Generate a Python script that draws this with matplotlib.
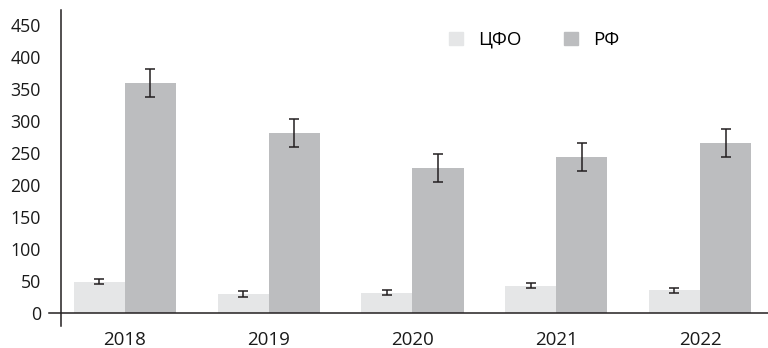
import numpy as np
import matplotlib
matplotlib.use("Agg")
import matplotlib.pyplot as plt
from matplotlib.patches import Patch

plt.rcParams['font.family'] = ['Open Sans', 'DejaVu Sans']

years = ['2018', '2019', '2020', '2021', '2022']
cfo_values = [49, 30, 32, 43, 36]
cfo_errors = [4, 4, 4, 4, 4]
rf_values = [359, 281, 227, 244, 266]
rf_errors = [22, 22, 22, 22, 22]
series_labels = ['ЦФО', 'РФ']

cfo_color = '#e5e6e7'
rf_color = '#bcbdbf'
ink = '#231f20'

fig = plt.figure(figsize=(7.68, 3.48), dpi=100)
ax = fig.add_axes([61 / 768, 1 - 313.3 / 348, 1 - 61 / 768, (313.3 - 10) / 348])

x = np.arange(len(years))
w = 0.355
err_kw = dict(ecolor=ink, elinewidth=1.1, capsize=3.3, capthick=1.1)

ax.bar(x - w / 2, cfo_values, w, color=cfo_color, yerr=cfo_errors,
       error_kw=err_kw, zorder=2)
ax.bar(x + w / 2, rf_values, w, color=rf_color, yerr=rf_errors,
       error_kw=err_kw, zorder=2)

ax.set_xlim(-0.445, 4.473)
ax.set_ylim(0, 473)
ax.set_yticks(np.arange(0, 451, 50))
ax.set_xticks(x)
ax.set_xticklabels(years)

for side in ['top', 'right']:
    ax.spines[side].set_visible(False)
ax.spines['left'].set_color(ink)
ax.spines['left'].set_linewidth(1.1)
ax.spines['left'].set_bounds(-20, 473)
ax.spines['bottom'].set_color(ink)
ax.spines['bottom'].set_linewidth(1.1)
ax.spines['bottom'].set_bounds(-0.53, 4.473)

ax.tick_params(axis='both', length=0, colors='#1a1a1a')
ax.tick_params(axis='y', pad=14.5, labelsize=12.8)
ax.tick_params(axis='x', pad=12.5, labelsize=13.5)

handles = [Patch(color=cfo_color), Patch(color=rf_color)]
ax.legend(handles, series_labels, ncol=2, frameon=False, fontsize=13.5,
          loc='center left', bbox_to_anchor=(449 / 768, 1 - 40 / 348),
          bbox_transform=fig.transFigure, borderaxespad=0, borderpad=0,
          handlelength=0.74, handleheight=0.74, handletextpad=0.8,
          columnspacing=2.3)

fig.savefig('out.png', dpi=100)
